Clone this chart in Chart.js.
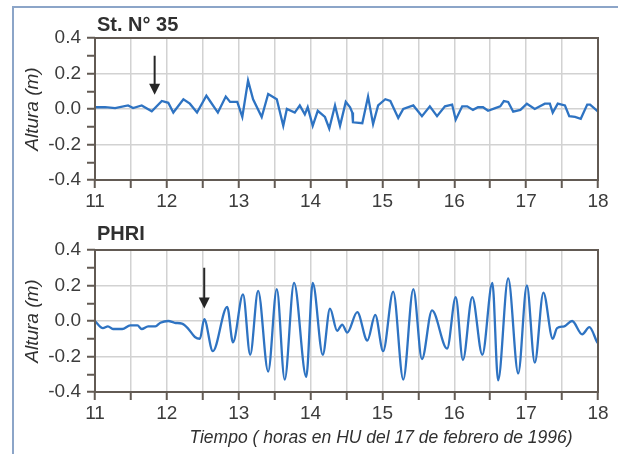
<!DOCTYPE html>
<html>
<head>
<meta charset="utf-8">
<title>Altura St. N° 35 / PHRI</title>
<script src="https://cdn.jsdelivr.net/npm/chart.js@4.4.0/dist/chart.umd.min.js"></script>
<style>
    body { margin: 0; background: #fff; }
    #wrap { position: relative; width: 618px; height: 454px; overflow: hidden; background: #fff; }
    #frame { position: absolute; left: 12px; top: 6px; width: 640px; height: 480px;
             border-left: 2px solid #8ca5c8; border-top: 2px solid #8ca5c8; }
    canvas { position: absolute; left: 0; }
    #topChart { top: 0; }
    #bottomChart { top: 212px; }
</style>
</head>
<body>
<div id="wrap">
    <div id="frame"></div>
    <canvas id="topChart" width="618" height="212"></canvas>
    <canvas id="bottomChart" width="618" height="242"></canvas>
</div>
<script>
// ========== DATA ==========
// St. N° 35 (horas, altura en m)
const st35Hours = [11.00, 11.14, 11.28, 11.46, 11.53, 11.65, 11.79, 11.93, 12.02, 12.09,
    12.23, 12.32, 12.42, 12.55, 12.60, 12.71, 12.82, 12.88, 12.98, 13.05,
    13.13, 13.20, 13.32, 13.41, 13.53, 13.62, 13.67, 13.78, 13.85, 13.92,
    13.96, 14.03, 14.10, 14.20, 14.26, 14.34, 14.41, 14.49, 14.55, 14.58,
    14.59, 14.72, 14.80, 14.87, 14.94, 15.04, 15.11, 15.22, 15.29, 15.43,
    15.55, 15.66, 15.76, 15.87, 15.97, 16.02, 16.11, 16.18, 16.26, 16.33,
    16.40, 16.47, 16.57, 16.64, 16.69, 16.75, 16.82, 16.92, 17.01, 17.12,
    17.26, 17.33, 17.37, 17.44, 17.54, 17.60, 17.68, 17.76, 17.85, 17.89,
    17.99, 18.00];
const st35Level = [0.010, 0.010, 0.005, 0.020, 0.005, 0.020, -0.013, 0.045, 0.035, -0.020,
    0.055, 0.030, -0.020, 0.075, 0.045, -0.020, 0.070, 0.040, 0.040, -0.045,
    0.160, 0.055, -0.045, 0.085, 0.055, -0.095, 0.000, -0.020, 0.020, -0.030,
    0.010, -0.095, -0.010, -0.045, -0.110, 0.020, -0.095, 0.040, 0.010, -0.020,
    -0.075, -0.080, 0.070, -0.085, 0.020, 0.055, 0.045, -0.050, 0.000, 0.020,
    -0.040, 0.015, -0.040, 0.015, 0.025, -0.060, 0.015, 0.015, -0.005, 0.010,
    0.010, -0.010, 0.005, 0.015, 0.045, 0.040, -0.015, -0.005, 0.030, 0.000,
    0.030, 0.030, -0.020, 0.030, 0.020, -0.040, -0.045, -0.055, 0.025, 0.025,
    -0.010, -0.015];

// PHRI (horas, altura en m)
const phriHours = [11.00, 11.11, 11.18, 11.25, 11.38, 11.49, 11.59, 11.65, 11.74, 11.84,
    11.91, 12.02, 12.11, 12.21, 12.29, 12.39, 12.46, 12.52, 12.64, 12.84,
    12.92, 13.06, 13.16, 13.27, 13.41, 13.53, 13.64, 13.77, 13.94, 14.03,
    14.17, 14.27, 14.37, 14.44, 14.51, 14.65, 14.79, 14.90, 15.01, 15.15,
    15.29, 15.43, 15.55, 15.69, 15.90, 16.02, 16.12, 16.25, 16.39, 16.53,
    16.61, 16.75, 16.89, 17.01, 17.12, 17.24, 17.37, 17.43, 17.53, 17.64,
    17.78, 17.88, 17.99, 18.00];
const phriLevel = [0.000, -0.040, -0.030, -0.045, -0.045, -0.025, -0.025, -0.045, -0.030, -0.030,
    -0.010, 0.000, -0.010, -0.015, -0.040, -0.090, -0.100, 0.010, -0.170, 0.080,
    -0.120, 0.150, -0.190, 0.170, -0.285, 0.180, -0.330, 0.215, -0.315, 0.215,
    -0.190, 0.070, -0.055, -0.020, -0.065, 0.050, -0.110, 0.035, -0.170, 0.165,
    -0.330, 0.180, -0.215, 0.060, -0.155, 0.135, -0.220, 0.135, -0.190, 0.215,
    -0.335, 0.240, -0.295, 0.200, -0.235, 0.160, -0.100, -0.040, -0.030, 0.000,
    -0.075, -0.035, -0.120, -0.125];

// arrows: [hour, y start, y tip]
const st35Arrow = [11.83, 0.30, 0.08];
const phriArrow = [12.52, 0.30, 0.07];

const xRange = [11, 18];
const yRange = [-0.4, 0.4];

const FONT = '"Liberation Sans", Arial, sans-serif';

// ========== PANEL PLUGIN (frame, title, arrow) ==========
const panelPlugin = {
    id: 'panel',
    afterDraw(chart, args, opts) {
        const { ctx, chartArea: a, scales } = chart;
        ctx.save();

        // arrow
        const ax = scales.x.getPixelForValue(opts.arrow[0]);
        const y0 = scales.y.getPixelForValue(opts.arrow[1]);
        const y1 = scales.y.getPixelForValue(opts.arrow[2]);
        ctx.strokeStyle = '#262626';
        ctx.fillStyle = '#262626';
        ctx.lineWidth = 2;
        ctx.beginPath();
        ctx.moveTo(ax, y0);
        ctx.lineTo(ax, y1 - 9);
        ctx.stroke();
        ctx.beginPath();
        ctx.moveTo(ax - 5.5, y1 - 11);
        ctx.lineTo(ax + 5.5, y1 - 11);
        ctx.lineTo(ax, y1);
        ctx.closePath();
        ctx.fill();

        // frame
        ctx.strokeStyle = '#625a53';
        ctx.lineWidth = 2;
        ctx.strokeRect(a.left, a.top, a.right - a.left, a.bottom - a.top);

        // panel title
        ctx.fillStyle = '#303030';
        ctx.font = 'bold 20px ' + FONT;
        ctx.textAlign = 'left';
        ctx.textBaseline = 'alphabetic';
        ctx.fillText(opts.title, a.left + 2, a.top - opts.titleGap);

        // x axis title (bottom panel only)
        if (opts.xTitle) {
            ctx.font = 'italic 17.5px ' + FONT;
            ctx.textAlign = 'center';
            ctx.fillText(opts.xTitle, 381, a.bottom + 51);
        }
        ctx.restore();
    }
};

function makePanel(canvasId, hours, level, opts) {
    const ctx = document.getElementById(canvasId).getContext('2d');
    return new Chart(ctx, {
        type: 'line',
        data: {
            datasets: [{
                data: hours.map((h, i) => ({ x: h, y: level[i] })),
                borderColor: '#2e73c2',
                borderWidth: 2.3,
                pointRadius: 0,
                tension: opts.smooth ? 0.4 : 0,
                cubicInterpolationMode: opts.smooth ? 'monotone' : 'default',
                fill: false
            }]
        },
        options: {
            responsive: false,
            animation: false,
            layout: { padding: { left: 0, right: 20, top: 38, bottom: 0 } },
            plugins: {
                legend: { display: false },
                tooltip: { enabled: false },
                panel: { title: opts.title, titleGap: opts.titleGap, arrow: opts.arrow, xTitle: opts.xTitle }
            },
            scales: {
                x: {
                    type: 'linear',
                    min: xRange[0],
                    max: xRange[1],
                    afterFit: scale => { scale.height = opts.xHeight; },
                    border: { display: false },
                    grid: {
                        color: '#d2d2d2',
                        lineWidth: 1.5,
                        tickColor: '#625a53',
                        tickLength: 8,
                        tickWidth: 2
                    },
                    ticks: {
                        stepSize: 0.5,
                        autoSkip: false,
                        maxRotation: 0,
                        padding: 2,
                        color: '#3c3c3c',
                        font: { family: FONT, size: 19 },
                        callback: v => Number.isInteger(v) ? v : ''
                    }
                },
                y: {
                    min: yRange[0],
                    max: yRange[1],
                    afterFit: scale => { scale.width = 95; },
                    border: { display: false },
                    grid: {
                        color: c => Math.round(c.tick.value * 10) % 2 === 0 ? '#d2d2d2' : 'rgba(0,0,0,0)',
                        lineWidth: 1.5,
                        tickColor: '#625a53',
                        tickLength: 8,
                        tickWidth: 2
                    },
                    ticks: {
                        stepSize: 0.1,
                        autoSkip: false,
                        padding: 6,
                        color: '#3c3c3c',
                        font: { family: FONT, size: 19 },
                        callback: v => {
                            const n = Math.round(v * 10);
                            return n % 2 === 0 ? (n / 10).toFixed(1) : '';
                        }
                    },
                    title: {
                        display: true,
                        text: 'Altura (m)',
                        color: '#303030',
                        padding: { top: 21, bottom: 0 },
                        font: { family: FONT, size: 19, style: 'italic' }
                    }
                }
            }
        },
        plugins: [panelPlugin]
    });
}

makePanel('topChart', st35Hours, st35Level, {
    title: 'St. N° 35', titleGap: 7, arrow: st35Arrow, xHeight: 32, smooth: false
});
makePanel('bottomChart', phriHours, phriLevel, {
    title: 'PHRI', titleGap: 10, arrow: phriArrow, xHeight: 62, smooth: true,
    xTitle: 'Tiempo ( horas en HU del 17 de febrero de 1996)'
});
</script>
</body>
</html>
